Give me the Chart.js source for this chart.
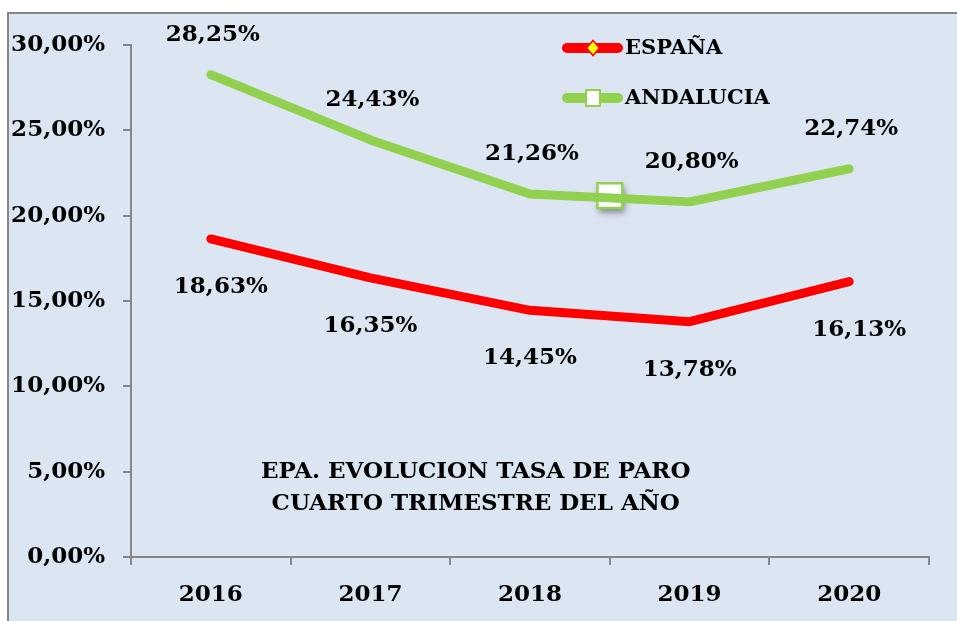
<!DOCTYPE html>
<html lang="es">

<head>
    <meta charset="UTF-8">
    <title>EPA. Evolucion tasa de paro</title>
    <script src="https://cdn.jsdelivr.net/npm/chart.js"></script>
    <style>
        html,
        body {
            margin: 0;
            background-color: #ffffff;
            overflow: hidden;
        }

        .frame {
            position: fixed;
            left: 7px;
            top: 12px;
            right: 0;
            bottom: 0;
            background-color: #dce6f2;
            border-top: 2px solid #868686;
            border-left: 2px solid #868686;
        }

        #chart-wrap {
            position: fixed;
            left: 8px;
            top: 13px;
            width: 949px;
            height: 608px;
        }
    </style>
</head>

<body>
    <div class="frame"></div>
    <div id="chart-wrap"><canvas id="paroChart"></canvas></div>

    <script>
        // datos EPA, cuarto trimestre
        const years = ["2016", "2017", "2018", "2019", "2020"];
        const espana = [18.63, 16.35, 14.45, 13.78, 16.13];
        const andalucia = [28.25, 24.43, 21.26, 20.80, 22.74];
        // marcador suelto que aparece en el grafico original (entre 2018 y 2019)
        const strayX = [2.5];
        const strayY = [21.16];
        const titleLines = ["EPA. EVOLUCION TASA DE PARO", "CUARTO TRIMESTRE DEL AÑO"];

        const FONT = "'DejaVu Serif', serif";
        const RED = "#ff0000";
        const GREEN = "#92d050";
        const AXIS = "#868686";

        const fmt = v => v.toFixed(2).replace(".", ",") + "%";

        // etiquetas de valores, leyenda y titulo
        const extras = {
            id: "extras",
            afterDatasetsDraw(chart) {
                const ctx = chart.ctx;
                const area = chart.chartArea;
                ctx.save();
                ctx.fillStyle = "#000";
                ctx.font = "bold 23px " + FONT;
                ctx.textAlign = "center";
                ctx.textBaseline = "middle";

                chart.getDatasetMeta(1).data.forEach((pt, i) => {
                    ctx.fillText(fmt(andalucia[i]), pt.x + 2, pt.y - 40);
                });
                chart.getDatasetMeta(0).data.forEach((pt, i) => {
                    const dx = (i === 0 || i === 4) ? 10 : 0;
                    ctx.fillText(fmt(espana[i]), pt.x + dx, pt.y + 48);
                });

                // titulo dentro del area
                const tx = area.left + (area.right - area.left) * 0.432;
                ctx.fillText(titleLines[0], tx, area.bottom - 85);
                ctx.fillText(titleLines[1], tx, area.bottom - 53);

                // leyenda
                const items = [
                    { label: "ESPAÑA", color: RED, y: 35 },
                    { label: "ANDALUCIA", color: GREEN, y: 85 }
                ];
                items.forEach((it, k) => {
                    const x0 = 559, x1 = 610, cx = 585;
                    ctx.strokeStyle = it.color;
                    ctx.lineWidth = 10;
                    ctx.lineCap = "round";
                    ctx.beginPath();
                    ctx.moveTo(x0, it.y);
                    ctx.lineTo(x1, it.y);
                    ctx.stroke();
                    if (k === 0) {
                        ctx.fillStyle = "#ffff00";
                        ctx.strokeStyle = RED;
                        ctx.lineWidth = 1.5;
                        ctx.beginPath();
                        ctx.moveTo(cx, it.y - 7.5);
                        ctx.lineTo(cx + 6.5, it.y);
                        ctx.lineTo(cx, it.y + 7.5);
                        ctx.lineTo(cx - 6.5, it.y);
                        ctx.closePath();
                        ctx.fill();
                        ctx.stroke();
                    } else {
                        ctx.fillStyle = "#ffffff";
                        ctx.strokeStyle = GREEN;
                        ctx.lineWidth = 2;
                        ctx.fillRect(cx - 7, it.y - 8, 14, 16);
                        ctx.strokeRect(cx - 7, it.y - 8, 14, 16);
                    }
                    ctx.fillStyle = "#000";
                    ctx.textAlign = "left";
                    ctx.font = "bold 21px " + FONT;
                    ctx.fillText(it.label, 617, it.y + 1);
                });
                ctx.restore();
            },
            beforeDatasetDraw(chart, args) {
                // sombra del marcador suelto
                if (args.index === 2) {
                    const ctx = chart.ctx;
                    ctx.save();
                    ctx.filter = "blur(3px)";
                    ctx.fillStyle = "rgba(60,60,70,0.55)";
                    args.meta.data.forEach(pt => {
                        ctx.fillRect(pt.x - 11, pt.y - 9, 26, 26);
                    });
                    ctx.restore();
                }
            }
        };

        new Chart(document.getElementById("paroChart").getContext("2d"), {
            type: "line",
            data: {
                labels: years,
                datasets: [{
                    label: "ESPAÑA",
                    data: espana,
                    borderColor: RED,
                    borderWidth: 9,
                    borderCapStyle: "round",
                    borderJoinStyle: "round",
                    pointRadius: 0,
                    tension: 0
                }, {
                    label: "ANDALUCIA",
                    data: andalucia,
                    borderColor: GREEN,
                    borderWidth: 9,
                    borderCapStyle: "round",
                    borderJoinStyle: "round",
                    pointRadius: 0,
                    tension: 0
                }, {
                    type: "scatter",
                    label: "marcador",
                    data: strayX.map((x, i) => ({ x: x, y: strayY[i] })),
                    xAxisID: "x2",
                    pointStyle: "rect",
                    pointRadius: 17.5,
                    pointBackgroundColor: "#ffffff",
                    pointBorderColor: GREEN,
                    pointBorderWidth: 2.5
                }]
            },
            options: {
                responsive: true,
                maintainAspectRatio: false,
                animation: false,
                events: [],
                layout: {
                    padding: { top: 30, right: 28, left: 0, bottom: 0 }
                },
                plugins: {
                    legend: { display: false },
                    tooltip: { enabled: false }
                },
                scales: {
                    x: {
                        offset: true,
                        grid: {
                            offset: true,
                            drawOnChartArea: false,
                            drawTicks: true,
                            tickLength: 8,
                            color: AXIS,
                            lineWidth: 2
                        },
                        border: { color: AXIS, width: 2 },
                        ticks: {
                            color: "#000",
                            padding: 16,
                            font: { family: FONT, size: 23, weight: "bold" }
                        },
                        afterFit(scale) { scale.height = 64; }
                    },
                    x2: {
                        type: "linear",
                        display: false,
                        min: -0.5,
                        max: 4.5
                    },
                    y: {
                        min: 0,
                        max: 30,
                        grid: {
                            drawOnChartArea: false,
                            tickLength: 8,
                            color: AXIS,
                            lineWidth: 2
                        },
                        border: { color: AXIS, width: 2 },
                        ticks: {
                            stepSize: 5,
                            color: "#000",
                            padding: 18,
                            callback: v => fmt(v),
                            font: { family: FONT, size: 23, weight: "bold" }
                        },
                        afterFit(scale) { scale.width = 123; }
                    }
                }
            },
            plugins: [extras]
        });
    </script>
</body>

</html>
